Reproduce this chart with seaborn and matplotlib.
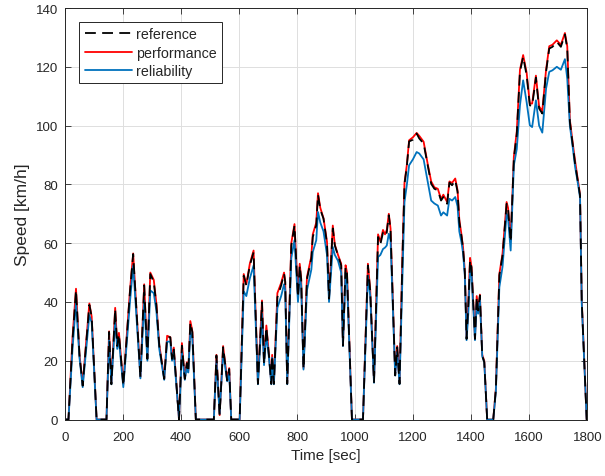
import numpy as np
import pandas as pd
import matplotlib
matplotlib.use("Agg")
import matplotlib.pyplot as plt
import seaborn as sns

# Drive-cycle speed traces
time_s = [0, 12, 26, 38, 50, 61, 84, 92, 109, 143, 152, 160, 173, 180, 186, 201,
          224, 235, 260, 273, 284, 294, 306, 315, 325, 342, 352, 363, 369, 375, 393, 403, 413, 420, 425, 432, 439, 451,
          513, 522, 533, 545, 559, 566, 573, 602,
          616, 625, 637, 650, 665, 679, 686, 694, 703, 711, 714, 720, 732, 745, 755, 759, 766,
          780, 791, 803, 809, 814, 822, 834, 849, 854, 866, 872, 880, 891, 903, 910, 923, 930, 941, 952, 958, 967, 972, 989,
          1027, 1044, 1052, 1065, 1079, 1087, 1096, 1103, 1109, 1116, 1122, 1138, 1145, 1153,
          1163, 1170, 1178, 1186, 1199, 1212, 1221, 1236, 1250, 1262, 1273, 1285, 1296, 1304, 1317, 1325, 1334, 1345, 1353, 1359,
          1367, 1372, 1378, 1384, 1390, 1396, 1401, 1413, 1419, 1424, 1430, 1438, 1445, 1455, 1476,
          1485, 1497, 1508, 1522, 1527, 1536, 1547, 1557, 1568, 1579, 1591, 1602, 1610, 1623, 1634, 1645, 1658, 1669, 1680,
          1695, 1709, 1723, 1731, 1740, 1750, 1758, 1769, 1775, 1781, 1798, 1800]

ref_kmh = [0, 0, 27, 44, 22, 11.5, 39, 35, 0, 0, 29.8, 12, 37.6, 25, 29, 11.5,
           43.5, 56.3, 14.3, 45.6, 20.6, 49.5, 46.8, 38.9, 25.1, 13.8, 28, 28, 20.6, 24.1, 0, 25.1, 13.8, 19.2, 16.2, 33, 29.7, 0,
           0, 21.8, 1.5, 24.6, 13.3, 17.2, 0, 0,
           48.9, 45.6, 52.4, 56.9, 12.1, 39.9, 18.9, 31.4, 21.8, 12.1, 21.8, 12.1, 41.6, 45.6, 49.6, 46.8, 12.1,
           59.2, 66, 41.6, 52.4, 47.8, 17.2, 47.8, 54.7, 62.1, 66, 76.5, 71.4, 68.3, 59.8, 41.1, 65, 59.2, 55.8, 52.4, 25.1, 51.8, 49.6, 0,
           0, 52.4, 43.8, 12.7, 62.1, 59.6, 63.6, 62.5, 63.6, 69.5, 64.6, 15, 24.6, 12.1,
           55, 80, 86, 94.6, 95.2, 97.3, 95.6, 93.9, 86.5, 80.2, 78.5, 78, 74.5, 75.7, 73.4, 80.6, 79.7, 81.4, 77.4, 67.2,
           62, 58.1, 50.2, 27.4, 38.8, 54.1, 51.8, 27.4, 41.6, 37.1, 42.2, 21.7, 19.5, 0, 0,
           10.4, 49, 55.8, 73.4, 71.7, 60.4, 88.8, 97, 118.3, 123.4, 117.1, 106.9, 106.7, 116.3, 105.8, 104.1, 118.3, 126.2, 126.8,
           128.5, 126.8, 131, 126.2, 101.3, 93.3, 87, 80, 76.3, 40, 0, 0]

perf_kmh = [0, 0, 28, 44.5, 22, 12, 39.5, 35, 0, 0, 30, 12.5, 38, 25.5, 29.5, 12,
            44, 56.5, 14.5, 46, 21, 50, 47.5, 39.5, 25.5, 14, 28.5, 28, 21, 24.5, 0, 26, 14, 19.5, 16.5, 33.5, 30, 0,
            0, 22, 1.5, 25, 13.5, 17.5, 0, 0,
            49.5, 46, 53, 57.5, 12.5, 40.5, 19.5, 32, 22, 12.5, 22, 12.5, 43, 46.5, 50, 47, 12.5,
            60, 66.5, 42, 53, 48, 17.5, 48.5, 55.5, 63, 67, 77, 72, 68.5, 60.5, 41.5, 66, 59.5, 56, 53, 25.5, 52.5, 50, 0,
            0, 53, 44, 13, 63, 60.5, 64.5, 63, 64.5, 70, 65, 15.5, 25, 12.5,
            56, 80.5, 86.5, 95, 96, 97.5, 96.5, 94.5, 87, 81, 79, 78.5, 75, 76.5, 74, 81, 80.5, 82, 78, 68,
            62.5, 58.5, 50.5, 28, 39.5, 55, 52, 28, 42, 37.5, 42.5, 22, 20, 0, 0,
            10.5, 49.5, 56.5, 74, 72, 61, 89.5, 98, 119, 124, 118, 107.5, 107.5, 117, 106.5, 105, 119, 127, 127.5,
            129, 127.5, 131.5, 127, 102, 94, 88, 80.5, 76.5, 40.5, 0, 0]

rel_kmh = [0, 0, 24, 40, 21, 11, 35.5, 33, 0, 0, 27, 12, 34, 24, 27, 11,
           40, 52.4, 14, 40.5, 20, 43.9, 43, 37, 24, 13.5, 26.5, 26.5, 20, 23, 0, 23, 13.5, 18, 16, 30, 27.5, 0,
           0, 20, 2, 23, 13, 16, 0, 0,
           43.6, 42, 48, 52.4, 12, 36, 18.5, 29, 21, 12, 21, 12, 38, 42, 46, 44, 12,
           55, 61, 40, 49, 45.5, 17, 44, 51, 57, 61, 70.6, 67, 64, 56, 40, 58.7, 56, 54, 50, 25, 50, 47, 0,
           0, 49, 42, 12.5, 55.3, 56, 58, 58.5, 59.2, 63.2, 61, 15, 23, 12,
           48, 74, 79.7, 86.5, 88.5, 91, 90.5, 88.5, 81, 74.5, 73.5, 72.8, 69.4, 70.5, 69.4, 75.1, 74.5, 75.7, 72.5, 64,
           60, 56.5, 49, 27, 36, 51, 50, 27, 39.5, 36, 41, 21.5, 19.5, 0, 0,
           9.5, 45, 52, 70, 68.5, 57.5, 86.5, 92, 106.9, 115.4, 108, 100.1, 99.5, 108.6, 100, 97.6, 112.6, 118.3, 118.8,
           120, 119, 122.6, 116, 100, 92.5, 86, 79.5, 75.5, 39.5, 0, 0]

assert len(time_s) == len(ref_kmh) == len(perf_kmh) == len(rel_kmh)

df = pd.DataFrame({"time": time_s, "reference": ref_kmh,
                   "performance": perf_kmh, "reliability": rel_kmh})

sns.set_style("whitegrid")
plt.rcParams['font.family'] = ['Liberation Sans', 'DejaVu Sans']

fig = plt.figure(figsize=(6.05, 4.77), dpi=100)
ax = fig.add_axes([0.1074, 0.1184, 0.8633, 0.8627])

# draw order: red, blue, then black dashed on top
l_perf = sns.lineplot(data=df, x="time", y="performance", ax=ax, color="#ff0000",
                      lw=1.3, estimator=None, sort=False).lines[-1]
l_rel = sns.lineplot(data=df, x="time", y="reliability", ax=ax, color="#0072bd",
                     lw=1.3, estimator=None, sort=False).lines[-1]
l_ref = sns.lineplot(data=df, x="time", y="reference", ax=ax, color="black",
                     lw=1.3, estimator=None, sort=False).lines[-1]
l_ref.set_linestyle((0, (6, 3.5)))

ax.set_xlim(0, 1800)
ax.set_ylim(0, 140)
ax.set_xticks(np.arange(0, 1801, 200))
ax.set_yticks(np.arange(0, 141, 20))
ax.set_xlabel("Time [sec]", fontsize=11, labelpad=4)
ax.set_ylabel("Speed [km/h]", fontsize=12.5, labelpad=4)

ax.grid(True, color="#dedede", lw=0.7)
for s in ax.spines.values():
    s.set_visible(True)
    s.set_color("#262626")
    s.set_linewidth(0.7)
ax.tick_params(direction="in", length=4, width=0.6, labelsize=9.5, colors="#262626",
               top=True, right=True, bottom=True, left=True)
ax.tick_params(axis="x", pad=8)
ax.tick_params(axis="y", pad=5)

leg = ax.legend([l_ref, l_perf, l_rel], ["reference", "performance", "reliability"],
                loc="upper left", bbox_to_anchor=(0.027, 0.966), borderaxespad=0,
                fontsize=10.3, handlelength=3.3, handletextpad=0.3, labelspacing=0.3,
                borderpad=0.38, fancybox=False, framealpha=1)
leg.get_frame().set_edgecolor("#262626")
leg.get_frame().set_linewidth(0.7)

fig.savefig("out.png", dpi=100)
